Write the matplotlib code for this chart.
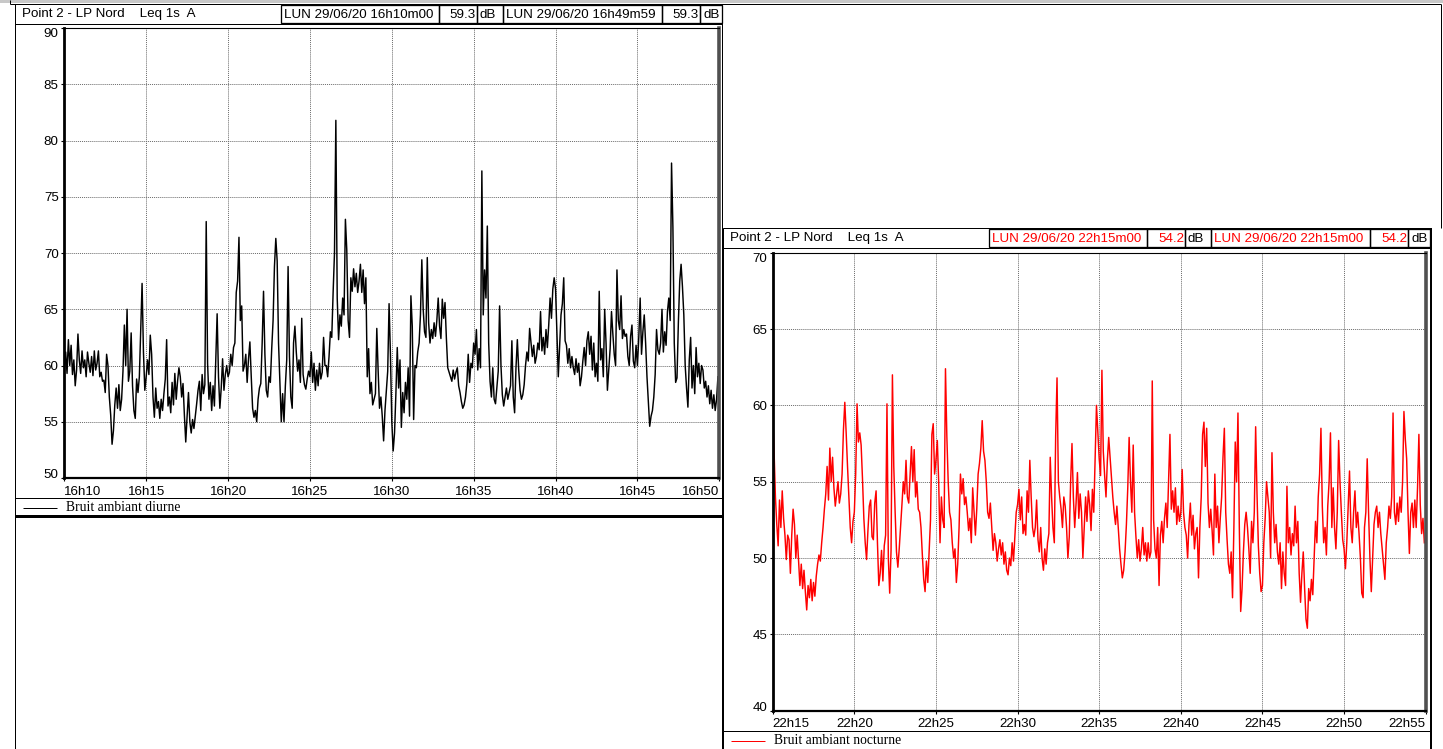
import matplotlib.pyplot as plt
from matplotlib.patches import Rectangle
import numpy as np

W, H = 1443, 749
STEP = 5  # seconds between stored samples

point_label = 'Point 2 - LP Nord    Leq 1s  A'

# daytime run, 16h10m00 -> 16h49m59, one row per minute
day_name = 'Bruit ambiant diurne'
day_start = 'LUN 29/06/20 16h10m00'
day_end = 'LUN 29/06/20 16h49m59'
day_leq = '59.3'
day_ticks = ['16h10', '16h15', '16h20', '16h25', '16h30', '16h35', '16h40', '16h45', '16h50']
day_yticks = [50, 55, 60, 65, 70, 75, 80, 85, 90]
day_db = [
    59.5, 61.2, 59.3, 62.3, 60.0, 61.8, 59.2, 60.5, 58.2, 59.6, 62.8, 60.5,
    59.3, 61.3, 59.8, 60.5, 59.0, 61.2, 60.2, 59.4, 60.8, 59.1, 61.3, 59.6,
    60.2, 61.3, 59.0, 59.4, 58.6, 58.7, 57.6, 61.0, 60.0, 57.2, 55.6, 53.0,
    54.2, 56.5, 58.0, 56.2, 58.3, 56.0, 57.0, 59.5, 63.6, 60.0, 65.0, 58.6,
    59.5, 62.9, 58.2, 56.0, 55.3, 58.8, 57.6, 59.0, 63.0, 67.3, 61.2, 57.8,
    59.0, 60.5, 59.2, 62.7, 61.0, 57.2, 55.4, 58.0, 56.2, 56.8, 55.3, 57.0,
    56.0, 57.5, 58.8, 62.3, 56.4, 57.2, 55.8, 58.5, 56.5, 59.3, 57.0, 58.6,
    59.8, 59.0, 57.2, 58.4, 55.6, 53.2, 55.5, 57.6, 55.0, 54.0, 55.2, 54.4,
    55.5, 56.6, 57.8, 58.6, 56.0, 59.2, 57.5, 58.3, 72.8, 60.2, 57.0, 58.5,
    56.0, 58.2, 56.4, 60.5, 64.6, 59.0, 56.2, 58.0, 60.6, 57.8, 59.2, 60.0,
    59.0, 59.4, 61.0, 60.0, 61.6, 62.0, 66.5, 67.5, 71.4, 64.0, 65.3, 59.5,
    60.0, 61.0, 58.5, 60.6, 62.1, 59.0, 56.2, 55.4, 56.0, 55.0, 57.0, 58.0,
    58.4, 62.0, 66.6, 61.0, 57.8, 57.2, 59.0, 58.5, 61.5, 64.0, 68.8, 71.3,
    69.3, 62.0, 58.5, 55.0, 57.5, 55.0, 58.2, 60.5, 68.8, 60.8, 57.2, 56.2,
    62.0, 63.5, 61.2, 59.5, 60.5, 58.5, 64.2, 59.2, 58.3, 57.9, 58.8, 59.5,
    59.0, 61.2, 58.5, 60.2, 57.8, 59.6, 58.2, 60.2, 58.8, 59.4, 62.5, 60.0,
    60.0, 59.0, 60.8, 63.0, 62.5, 66.5, 70.0, 81.8, 66.0, 62.3, 64.5, 63.5,
    66.0, 64.5, 73.0, 70.3, 64.0, 62.5, 67.8, 66.6, 68.6, 67.0, 68.2, 66.5,
    67.5, 69.0, 66.5, 68.5, 65.5, 67.8, 59.0, 61.5, 57.5, 58.5, 56.5, 57.0,
    57.5, 63.3, 59.5, 56.2, 57.2, 55.5, 53.3, 56.0, 57.8, 59.5, 65.5, 61.0,
    55.0, 52.4, 54.0, 57.5, 61.6, 58.0, 60.5, 54.5, 57.6, 55.8, 58.5, 57.0,
    59.8, 55.5, 66.2, 63.5, 55.2, 60.0, 59.8, 61.2, 62.0, 64.5, 69.4, 65.0,
    63.0, 62.5, 69.6, 63.8, 62.0, 63.2, 62.4, 63.8, 62.6, 64.0, 66.0, 63.5,
    62.4, 65.9, 64.2, 65.6, 62.4, 59.8, 59.4, 59.0, 58.6, 59.6, 58.8, 59.4,
    59.8, 58.2, 57.6, 56.8, 56.2, 56.5, 57.2, 58.4, 61.0, 58.5, 60.2, 59.8,
    62.0, 61.0, 63.2, 59.6, 61.5, 59.8, 77.3, 64.5, 68.5, 66.0, 72.4, 62.0,
    58.6, 57.2, 59.8, 57.0, 56.6, 58.0, 59.5, 65.3, 60.0, 57.4, 56.4, 57.2,
    58.0, 57.0, 57.6, 58.2, 62.2, 57.2, 55.8, 59.8, 62.3, 59.6, 57.8, 57.0,
    57.4, 58.3, 60.0, 61.2, 60.4, 63.3, 62.0, 60.8, 61.8, 60.2, 60.8, 62.0,
    61.4, 64.8, 61.3, 62.5, 61.0, 63.2, 61.6, 63.6, 66.0, 64.2, 66.8, 67.8,
    66.8, 63.0, 59.0, 61.8, 64.5, 65.5, 67.8, 62.2, 61.8, 60.2, 61.5, 59.8,
    60.8, 59.8, 59.2, 60.6, 59.4, 60.2, 58.2, 59.0, 60.4, 61.6, 60.0, 62.2,
    63.0, 61.0, 62.6, 59.6, 62.0, 59.0, 60.2, 58.6, 66.6, 60.5, 61.5, 59.0,
    65.0, 62.0, 57.8, 59.6, 61.5, 64.8, 62.8, 61.0, 60.0, 68.5, 64.0, 63.2,
    66.2, 62.4, 63.2, 62.6, 62.8, 60.8, 60.0, 62.6, 63.6, 60.4, 59.8, 61.8,
    60.0, 62.5, 66.0, 61.0, 63.0, 64.5, 62.0, 59.0, 56.8, 54.6, 55.5, 56.0,
    57.2, 59.2, 63.2, 61.4, 61.0, 62.0, 65.0, 61.2, 63.0, 61.8, 64.8, 66.0,
    64.0, 78.0, 72.3, 62.0, 58.5, 58.9, 63.8, 67.5, 69.0, 67.0, 64.5, 60.0,
    58.0, 56.3, 60.5, 62.5, 58.0, 60.0, 57.5, 61.6, 59.0, 60.2, 58.4, 60.0,
    59.6, 58.0, 58.6, 57.2, 58.2, 56.6, 57.8, 56.2, 57.4, 56.0, 57.0, 59.0,
]

# night run, 22h15m00 -> 22h55m00
night_name = 'Bruit ambiant nocturne'
night_start = 'LUN 29/06/20 22h15m00'
night_end = 'LUN 29/06/20 22h15m00'
night_leq = '54.2'
night_ticks = ['22h15', '22h20', '22h25', '22h30', '22h35', '22h40', '22h45', '22h50', '22h55']
night_yticks = [40, 45, 50, 55, 60, 65, 70]
night_db = [
    59.6, 57.0, 54.0, 52.2, 50.8, 53.8, 52.0, 54.4, 52.6, 51.5, 49.9, 51.5,
    51.2, 49.0, 51.5, 53.2, 52.2, 50.0, 51.5, 49.8, 48.2, 49.6, 48.0, 49.2,
    47.8, 46.6, 48.2, 47.4, 48.6, 47.2, 48.4, 47.5, 48.8, 49.6, 50.2, 49.8,
    51.0, 52.0, 53.2, 54.2, 56.0, 53.8, 57.2, 55.0, 56.6, 54.6, 53.4, 54.2,
    55.0, 53.6, 54.2, 55.5, 58.4, 60.2, 58.2, 56.0, 54.0, 52.0, 51.0, 52.4,
    53.0, 55.5, 60.1, 57.6, 58.2, 57.4, 55.2, 52.6, 51.0, 49.9, 51.8, 53.4,
    53.8, 51.4, 51.2, 53.6, 54.4, 51.0, 48.2, 49.0, 50.5, 48.5, 50.8, 51.5,
    60.1, 50.0, 47.7, 50.5, 62.0, 56.0, 53.0, 50.4, 49.4, 50.6, 52.0, 53.5,
    55.0, 54.2, 56.4, 54.0, 53.6, 55.5, 57.3, 55.0, 57.1, 54.0, 55.0, 53.2,
    53.0, 52.0, 50.2, 48.6, 47.8, 49.8, 48.4, 50.5, 52.5, 58.1, 58.8, 55.5,
    56.4, 57.7, 55.0, 51.0, 54.0, 52.5, 52.0, 62.4, 58.0, 55.0, 53.0, 52.5,
    51.0, 50.0, 50.6, 48.4, 49.6, 52.0, 55.5, 54.2, 55.2, 53.5, 54.0, 53.0,
    51.8, 52.6, 51.0, 54.6, 53.0, 51.5, 53.2, 55.5, 56.2, 57.2, 59.0, 57.0,
    56.4, 55.0, 53.0, 52.6, 53.6, 52.0, 50.5, 51.6, 51.0, 49.8, 50.6, 51.2,
    50.2, 51.0, 49.6, 50.4, 49.2, 48.9, 50.0, 49.5, 51.0, 49.8, 51.4, 53.0,
    53.5, 54.5, 52.5, 54.0, 51.6, 52.2, 51.5, 54.4, 53.0, 56.4, 54.0, 52.0,
    51.4, 52.0, 53.8, 51.2, 50.4, 52.0, 50.0, 49.2, 50.6, 49.6, 51.0, 51.6,
    56.6, 54.0, 52.0, 51.0, 58.0, 61.8, 55.0, 54.0, 53.2, 52.0, 54.0, 53.4,
    52.0, 50.0, 51.4, 55.0, 57.5, 54.0, 52.0, 53.6, 55.6, 52.6, 54.2, 53.0,
    50.0, 52.0, 54.0, 52.4, 54.4, 53.5, 51.8, 54.5, 53.0, 56.6, 60.0, 58.2,
    56.5, 55.4, 62.3, 57.0, 55.4, 54.0, 56.4, 57.9, 56.6, 55.2, 54.0, 53.0,
    52.2, 53.4, 52.0, 50.6, 49.6, 48.7, 49.2, 50.4, 52.2, 54.6, 57.9, 55.0,
    53.0, 57.4, 53.0, 51.4, 50.0, 51.2, 49.8, 50.6, 52.0, 50.2, 51.0, 49.8,
    51.0, 50.0, 50.4, 61.6, 52.5, 50.6, 50.0, 52.0, 48.2, 51.5, 52.4, 51.0,
    52.6, 53.6, 52.0, 55.0, 58.1, 53.2, 54.4, 53.0, 54.6, 52.2, 53.4, 52.4,
    53.0, 55.8, 53.0, 52.0, 51.5, 50.0, 52.2, 53.6, 51.5, 52.8, 50.6, 51.6,
    52.0, 48.7, 52.0, 54.0, 58.1, 58.9, 56.0, 58.5, 53.6, 52.0, 53.2, 51.8,
    50.2, 55.5, 52.0, 53.4, 51.0, 52.6, 54.0, 56.6, 58.5, 53.0, 51.2, 49.6,
    49.0, 50.4, 47.4, 52.0, 57.6, 55.0, 59.5, 52.0, 46.5, 48.0, 50.4, 52.2,
    53.0, 52.0, 50.6, 49.0, 52.4, 51.0, 53.0, 58.6, 54.2, 50.8, 49.0, 47.8,
    48.2, 51.0, 52.6, 55.0, 54.0, 53.0, 50.0, 56.9, 53.0, 51.0, 52.2, 50.4,
    49.6, 51.0, 48.0, 50.4, 49.0, 48.2, 54.7, 51.0, 52.0, 50.2, 51.6, 50.8,
    53.4, 51.0, 52.4, 49.0, 47.1, 49.0, 50.4, 48.0, 46.0, 45.4, 48.0, 47.2,
    48.6, 47.6, 50.0, 52.4, 51.0, 54.0, 55.5, 58.5, 53.4, 51.0, 52.0, 50.2,
    53.4, 55.0, 58.2, 52.0, 54.6, 52.0, 50.6, 53.0, 57.7, 55.0, 53.0, 51.2,
    50.6, 49.3, 51.0, 53.4, 55.7, 52.0, 51.0, 53.0, 54.4, 52.0, 53.0, 51.6,
    50.0, 47.7, 47.4, 52.0, 53.0, 56.5, 53.0, 50.0, 47.8, 50.0, 52.2, 53.0,
    53.4, 52.0, 53.0, 51.6, 50.6, 49.6, 48.6, 51.0, 52.0, 53.4, 52.6, 54.0,
    59.5, 53.0, 52.2, 53.6, 52.4, 54.0, 53.0, 55.0, 59.6, 57.8, 56.5, 53.0,
    50.3, 53.0, 53.6, 52.0, 53.8, 52.0, 54.6, 58.1, 53.5, 51.6, 52.6, 51.0,
]

plt.rcParams['font.family'] = ['Liberation Sans', 'DejaVu Sans']
plt.rcParams['font.size'] = 9.6

fig = plt.figure(figsize=(W / 100, H / 100), dpi=100)

# full-figure layer in pixel units for the window frames and header cells
bg = fig.add_axes([0, 0, 1, 1], zorder=0)
bg.set_xlim(0, W)
bg.set_ylim(H, 0)
bg.axis('off')

PX = 0.72  # one pixel in points


def box(x0, y0, x1, y1, lw=1.0, ec='black'):
    bg.add_patch(Rectangle((x0, y0), x1 - x0, y1 - y0, lw=lw * PX, ec=ec, fc='none'))


def hline(x0, x1, y, lw=1.0, c='black'):
    bg.plot([x0, x1], [y, y], color=c, lw=lw * PX, solid_capstyle='butt')


def vline(x, y0, y1, lw=1.0, c='black'):
    bg.plot([x, x], [y0, y1], color=c, lw=lw * PX, solid_capstyle='butt')


def panel(ox, oy, bottom, head_color, start, end, leq, name, color, db,
          ticks, yticks, rect):
    # header strip
    box(ox, oy, ox + 707, oy + 20)
    ty = oy + 10.5
    bg.text(ox + 7, ty, point_label, va='center', ha='left')
    cells = [(266, 424, start, head_color), (424, 462, leq, head_color),
             (462, 488, 'dB', 'black'), (488, 647, end, head_color),
             (647, 685, leq, head_color), (685, 707, 'dB', 'black')]
    for a, b, txt, c in cells:
        box(ox + a, oy + 1, ox + b, oy + 19, lw=1.3)
        if txt == leq:
            bg.text(ox + b - 1, ty, txt, va='center', ha='right', color=c)
        else:
            bg.text(ox + a + 3, ty, txt, va='center', ha='left', color=c)

    # chart frame and legend strip
    box(ox, oy + 20, ox + 707, bottom - 19)
    box(ox, bottom - 19, ox + 707, bottom)
    ly = bottom - 9.5
    hline(ox + 8, ox + 42, ly, lw=1.0, c=color)
    bg.text(ox + 51, ly, name, va='center', ha='left',
            family=['Liberation Serif', 'DejaVu Serif'], size=9.8)

    # time series
    x0, y0, x1, y1 = rect
    ax = fig.add_axes([x0 / W, 1 - y1 / H, (x1 - x0) / W, (y1 - y0) / H], zorder=2)
    t = np.arange(len(db)) * STEP / 60.0
    ax.plot(t, db, color=color, lw=1.05)
    ax.set_xlim(0, 40)
    ax.set_ylim(yticks[0], yticks[-1])
    ax.set_xticks(np.arange(0, 41, 5))
    ax.set_xticklabels(ticks)
    ax.set_yticks(yticks)
    ax.grid(True, color='#6a6a6a', lw=0.7, ls=(0, (1, 1)))
    ax.tick_params(axis='both', length=2.5, width=0.8, direction='out', pad=1.5)
    ax.tick_params(axis='x', pad=3)
    xl = ax.get_xticklabels()
    xl[0].set_ha('left')
    xl[-1].set_ha('right')
    yl = ax.get_yticklabels()
    yl[0].set_va('baseline')
    yl[-1].set_va('top')
    ax.spines['left'].set_linewidth(2.0)
    ax.spines['bottom'].set_linewidth(1.6)
    ax.spines['top'].set_linewidth(0.8)
    ax.spines['right'].set_linewidth(2.6)
    ax.spines['right'].set_color('#505050')
    return ax


# outer window lines
bg.add_patch(Rectangle((0, 0), W, 3, fc='#c8c8c8', ec='none'))
vline(10, 0, 4)
hline(10, 1441, 4)
vline(15, 4, H)
vline(1441, 4, 228)
vline(722, 4, H)

panel(15, 4, 517, 'black', day_start, day_end, day_leq, day_name, 'black',
      day_db, day_ticks, day_yticks, (64.3, 28.1, 719.3, 478.0))
hline(15, 722, 516, lw=2)

panel(723, 228, 750, 'red', night_start, night_end, night_leq, night_name, 'red',
      night_db, night_ticks, night_yticks, (772.7, 252.7, 1425.7, 710.7))
vline(1431, 228, H, lw=2)

fig.savefig('out.png', dpi=100)
